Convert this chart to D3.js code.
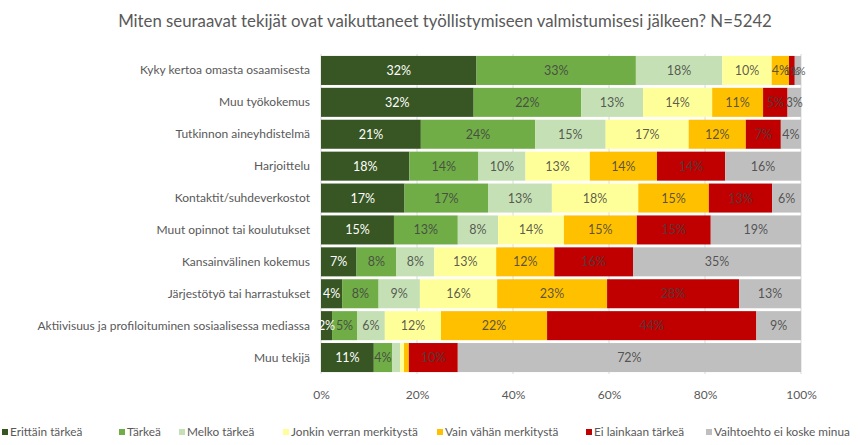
<!DOCTYPE html>
<html><head><meta charset="utf-8">
<script src="https://cdn.jsdelivr.net/npm/d3@7"></script>
<style>body{margin:0;background:#fff;} svg{display:block;font-family:Lato, "Open Sans", sans-serif;}</style>
</head><body><svg id="c" width="862" height="445"></svg>
<script>
const title = "Miten seuraavat tekijät ovat vaikuttaneet työllistymiseen valmistumisesi jälkeen? N=5242";
const categories = ["Kyky kertoa omasta osaamisesta","Muu työkokemus","Tutkinnon aineyhdistelmä","Harjoittelu","Kontaktit/suhdeverkostot","Muut opinnot tai koulutukset","Kansainvälinen kokemus","Järjestötyö tai harrastukset","Aktiivisuus ja profiloituminen sosiaalisessa mediassa","Muu tekijä"];
const seriesNames = ["Erittäin tärkeä","Tärkeä","Melko tärkeä","Jonkin verran merkitystä","Vain vähän merkitystä","Ei lainkaan tärkeä","Vaihtoehto ei koske minua"];
const erittain   = [32.4,31.8,20.8,18.4,17.4,15.2, 7.4, 4.4, 2.3,11.0];
const tarkea     = [33.2,22.4,23.8,14.4,17.4,13.3, 8.3, 7.6, 5.2, 3.8];
const melko      = [18.0,12.9,14.7, 9.8,13.3, 8.4, 7.9, 8.6, 5.8, 1.7];
const jonkin     = [10.3,14.4,17.3,13.4,18.0,13.7,12.9,16.1,11.7, 0.8];
const vainVahan  = [ 3.6,10.6,11.9,14.0,14.7,15.2,12.1,22.9,22.1, 1.0];
const eiLainkaan = [ 1.2, 5.1, 7.3,14.2,13.2,15.4,16.4,27.5,43.6,10.2];
const eiKoske    = [ 1.3, 2.8, 4.2,15.8, 6.0,18.8,35.0,12.9, 9.3,71.5];
const hiddenLabels = [[9,2],[9,3],[9,4]];
const xTicks = [0,20,40,60,80,100];
const colors = ["#375623","#70AD47","#C5E0B4","#FFFF99","#FFC000","#C00000","#BFBFBF"];

const series = [erittain,tarkea,melko,jonkin,vainVahan,eiLainkaan,eiKoske];
const svg = d3.select("#c");
const x = d3.scaleLinear().domain([0,100]).range([321,801]);
const y = d3.scaleBand().domain(categories).range([54.5,373.5]).paddingInner(0.09).paddingOuter(0.045);

svg.append("text").attr("x",445).attr("y",27).attr("text-anchor","middle")
  .attr("fill","#595959").attr("font-size",16.8).text(title);

// gridlines
svg.append("g").selectAll("line").data(xTicks).join("line")
  .attr("x1",d=>x(d)).attr("x2",d=>x(d)).attr("y1",54).attr("y2",374)
  .attr("stroke","#d9d9d9").attr("stroke-width",1);

const rows = categories.map((c,i)=>{
  let acc=0;
  return series.map((s,k)=>{const v=s[i];const r={cat:c,i,k,x0:acc,x1:acc+v,v};acc+=v;return r;});
}).flat();

svg.append("g").selectAll("rect").data(rows).join("rect")
  .attr("x",d=>x(d.x0)).attr("width",d=>x(d.x1)-x(d.x0))
  .attr("y",d=>y(d.cat)).attr("height",y.bandwidth())
  .attr("fill",d=>colors[d.k]);

svg.append("g").selectAll("text").data(rows.filter(d=>!hiddenLabels.some(h=>h[0]===d.i&&h[1]===d.k)))
  .join("text")
  .attr("x",d=>x((d.x0+d.x1)/2)).attr("y",d=>y(d.cat)+y.bandwidth()/2+4.5)
  .attr("text-anchor","middle").attr("font-size",d=>d.v<2?11:12.5)
  .attr("fill",d=>d.k===0?"#ffffff":"#404040")
  .attr("fill-opacity",d=>d.k===0?1:0.85)
  .text(d=>Math.round(d.v)+"%");

// category axis
svg.append("g").selectAll("text").data(categories).join("text")
  .attr("x",310).attr("y",d=>y(d)+y.bandwidth()/2+4)
  .attr("text-anchor","end").attr("font-size",12).attr("fill","#595959").text(d=>d);

// x axis
const xa = svg.append("g").attr("transform","translate(0,390)")
  .call(d3.axisBottom(x).tickValues(xTicks).tickFormat(d=>d+"%").tickSize(0).tickPadding(0));
xa.select(".domain").remove();
xa.selectAll("text").attr("font-size",12).attr("fill","#595959").attr("font-family","Lato, sans-serif").attr("dy","0.71em");

// legend
const legX = [2,119,179,283,437,586,706];
const lg = svg.append("g").selectAll("g").data(seriesNames).join("g")
  .attr("transform",(d,i)=>`translate(${legX[i]},436)`);
lg.append("rect").attr("x",0).attr("y",-7).attr("width",6).attr("height",6).attr("fill",(d,i)=>colors[i]);
lg.append("text").attr("x",8).attr("y",0).attr("font-size",11.8).attr("fill","#595959").text(d=>d);
</script></body></html>
